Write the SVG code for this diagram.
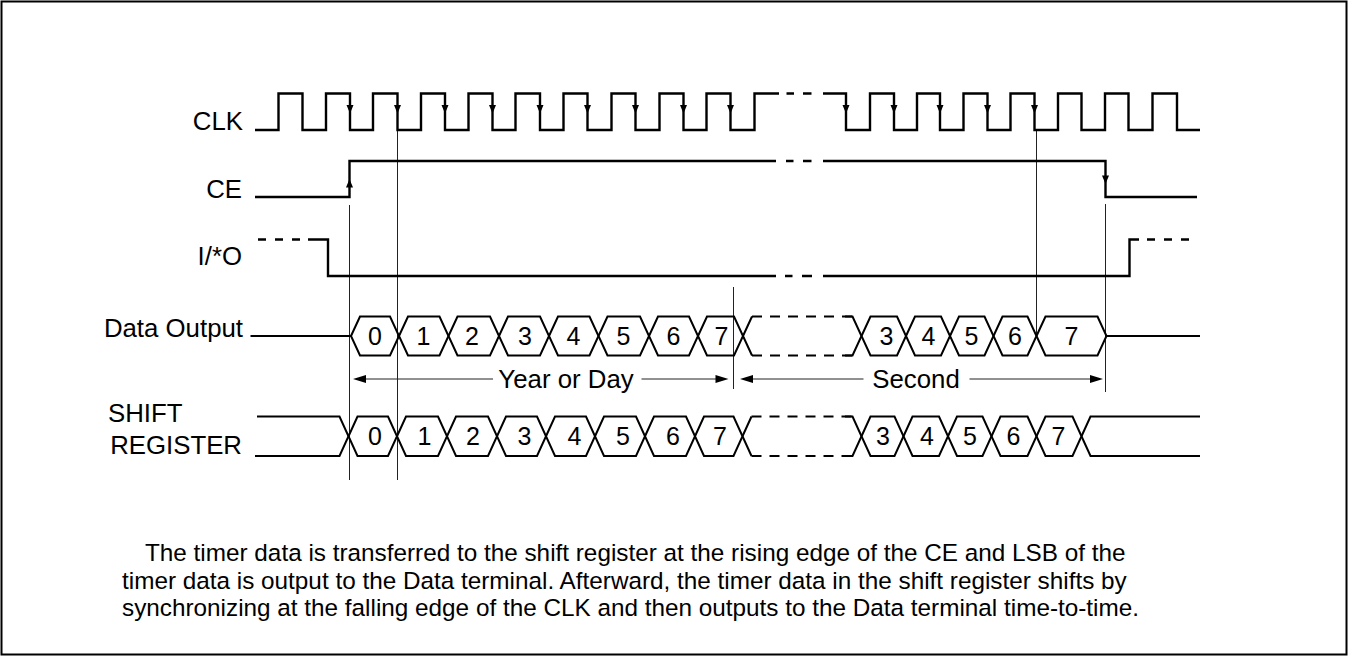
<svg xmlns="http://www.w3.org/2000/svg" width="1348" height="656" viewBox="0 0 1348 656">
<defs>
<style>
.w{fill:none;stroke:#000;stroke-width:2.4;stroke-linejoin:miter;stroke-linecap:butt}
.h{fill:none;stroke:#000;stroke-width:2;stroke-linejoin:miter}
.d{fill:none;stroke:#000;stroke-width:2.4;stroke-dasharray:8,9}
.dh{fill:none;stroke:#000;stroke-width:2;stroke-dasharray:10,8}
.g{fill:none;stroke:#222;stroke-width:1}
.a{fill:#000;stroke:none}
.t{font-family:"Liberation Sans",Arial,sans-serif;font-size:25.8px;fill:#000}
.n{font-family:"Liberation Sans",Arial,sans-serif;font-size:25px;fill:#000;text-anchor:middle}
.c{font-family:"Liberation Sans",Arial,sans-serif;font-size:24.3px;fill:#000}
</style>
</defs>
<rect x="1.5" y="1.5" width="1345" height="653" fill="#fff" stroke="#000" stroke-width="2"/>

<g id="labels">
<text class="t" x="243" y="130" text-anchor="end">CLK</text>
<text class="t" x="242" y="198" text-anchor="end">CE</text>
<text class="t" x="242" y="265" text-anchor="end">I/*O</text>
<text class="t" x="243" y="336.5" text-anchor="end">Data Output</text>
<text class="t" x="108" y="421.5">SHIFT</text>
<text class="t" x="242" y="453.5" text-anchor="end">REGISTER</text>
</g>

<g id="guides">
<line class="g" x1="349.5" y1="205" x2="349.5" y2="480"/>
<line class="g" x1="397.5" y1="130" x2="397.5" y2="480"/>
<line class="g" x1="733.5" y1="287" x2="733.5" y2="389"/>
<line class="g" x1="1036.5" y1="130" x2="1036.5" y2="336"/>
<line class="g" x1="1105.5" y1="204" x2="1105.5" y2="392"/>
</g>

<g id="clk">
<path class="w" d="M255,130 H278.5 V93.5 H302.5 V130 H326 V93.5 H350 V130 H373 V93.5 H397.5 V130 H421 V93.5 H445 V130 H468.5 V93.5 H492.5 V130 H515.5 V93.5 H540 V130 H563.5 V93.5 H587.5 V130 H611.5 V93.5 H635.5 V130 H659.5 V93.5 H683.5 V130 H706.5 V93.5 H730.5 V130 H754.5 V93.5 H779"/>
<path class="w" d="M786.5,93.5 H794 M803,93.5 H811.5"/>
<path class="w" d="M823,93.5 H846 V130 H870 V93.5 H894 V130 H917 V93.5 H940 V130 H963.5 V93.5 H987.5 V130 H1010.5 V93.5 H1034.5 V130 H1058 V93.5 H1081.5 V130 H1105 V93.5 H1128.5 V130 H1152.5 V93.5 H1177 V130 H1200"/>
<g class="a">
<polygon points="346.5,105 353.5,105 350,113.5"/>
<polygon points="394,105 401,105 397.5,113.5"/>
<polygon points="441.5,105 448.5,105 445,113.5"/>
<polygon points="489,105 496,105 492.5,113.5"/>
<polygon points="536.5,105 543.5,105 540,113.5"/>
<polygon points="584,105 591,105 587.5,113.5"/>
<polygon points="632,105 639,105 635.5,113.5"/>
<polygon points="680,105 687,105 683.5,113.5"/>
<polygon points="727,105 734,105 730.5,113.5"/>
<polygon points="842.5,105 849.5,105 846,113.5"/>
<polygon points="890.5,105 897.5,105 894,113.5"/>
<polygon points="936.5,105 943.5,105 940,113.5"/>
<polygon points="984,105 991,105 987.5,113.5"/>
<polygon points="1031,105 1038,105 1034.5,113.5"/>
</g>
</g>

<g id="ce">
<path class="w" d="M255,197 H349.5 V161 H776"/>
<path class="w" d="M786,161 H793.5 M803,161 H811.5"/>
<path class="w" d="M823,161 H1105.5 V197 H1197"/>
<polygon class="a" points="346,187.5 353,187.5 349.5,179"/>
<polygon class="a" points="1102,175.5 1109,175.5 1105.5,184"/>
</g>

<g id="io">
<path class="d" d="M258,239.5 H305"/>
<path class="w" d="M308,239.5 H328 V276 H776"/>
<path class="w" d="M785,276 H792.5 M802,276 H812"/>
<path class="w" d="M823,276 H1129.5 V239.5 H1139"/>
<path class="d" d="M1147,239.5 H1196"/>
</g>

<g id="data-output">
<path class="h" d="M250.5,336 H351"/>
<path class="h" d="M351,336 L360,316.5 H390 L399,336 L390,355.5 H360 Z"/>
<path class="h" d="M399,336 L408,316.5 H439.5 L448.5,336 L439.5,355.5 H408 Z"/>
<path class="h" d="M448.5,336 L457.5,316.5 H490 L499,336 L490,355.5 H457.5 Z"/>
<path class="h" d="M499,336 L508,316.5 H540 L549,336 L540,355.5 H508 Z"/>
<path class="h" d="M549,336 L558,316.5 H589.5 L598.5,336 L589.5,355.5 H558 Z"/>
<path class="h" d="M598.5,336 L607.5,316.5 H640 L649,336 L640,355.5 H607.5 Z"/>
<path class="h" d="M649,336 L658,316.5 H689 L698,336 L689,355.5 H658 Z"/>
<path class="h" d="M698,336 L707,316.5 H734 L743,336 L734,355.5 H707 Z"/>
<path class="h" d="M743,336 L752,316.5 M743,336 L752,355.5"/>
<path class="dh" d="M752,316.5 H852.5 M752,355.5 H852.5"/>
<path class="h" d="M845,316.5 H852.5 L861.5,336 L852.5,355.5 H845"/>
<path class="h" d="M861.5,336 L870.5,316.5 H897 L906,336 L897,355.5 H870.5 Z"/>
<path class="h" d="M906,336 L915,316.5 H941 L950,336 L941,355.5 H915 Z"/>
<path class="h" d="M950,336 L959,316.5 H984.5 L993.5,336 L984.5,355.5 H959 Z"/>
<path class="h" d="M993.5,336 L1002.5,316.5 H1027.5 L1036.5,336 L1027.5,355.5 H1002.5 Z"/>
<path class="h" d="M1036.5,336 L1045.5,316.5 H1097.5 L1106.5,336 L1097.5,355.5 H1045.5 Z"/>
<path class="h" d="M1106.5,336 H1200"/>
<text class="n" x="375" y="345">0</text>
<text class="n" x="423.5" y="345">1</text>
<text class="n" x="472" y="345">2</text>
<text class="n" x="525" y="345">3</text>
<text class="n" x="573.5" y="345">4</text>
<text class="n" x="623.5" y="345">5</text>
<text class="n" x="673.5" y="345">6</text>
<text class="n" x="721.5" y="345">7</text>
<text class="n" x="886.5" y="345">3</text>
<text class="n" x="928.5" y="345">4</text>
<text class="n" x="971.5" y="345">5</text>
<text class="n" x="1015" y="345">6</text>
<text class="n" x="1071.5" y="345">7</text>
</g>

<g id="spans">
<path class="g" d="M362,379 H493 M641.5,379 H718"/>
<polygon class="a" points="353,379 366,375 366,383"/>
<polygon class="a" points="728.5,379 715.5,375 715.5,383"/>
<text class="t" x="566" y="388" text-anchor="middle">Year or Day</text>
<path class="g" d="M750,379 H863.5 M969.5,379 H1093"/>
<polygon class="a" points="740,379 753,375 753,383"/>
<polygon class="a" points="1103,379 1090,375 1090,383"/>
<text class="t" x="916" y="388" text-anchor="middle">Second</text>
</g>

<g id="shift-register">
<path class="h" d="M257,416.5 H339.5 L348.5,436.25 L339.5,456 H255"/>
<path class="h" d="M348.5,436.25 L357.5,416.5 H388 L397,436.25 L388,456 H357.5 Z"/>
<path class="h" d="M397,436.25 L406,416.5 H438 L447,436.25 L438,456 H406 Z"/>
<path class="h" d="M447,436.25 L456,416.5 H488 L497,436.25 L488,456 H456 Z"/>
<path class="h" d="M497,436.25 L506,416.5 H537 L546,436.25 L537,456 H506 Z"/>
<path class="h" d="M546,436.25 L555,416.5 H586 L595,436.25 L586,456 H555 Z"/>
<path class="h" d="M595,436.25 L604,416.5 H636 L645,436.25 L636,456 H604 Z"/>
<path class="h" d="M645,436.25 L654,416.5 H686 L695,436.25 L686,456 H654 Z"/>
<path class="h" d="M695,436.25 L704,416.5 H733.5 L742.5,436.25 L733.5,456 H704 Z"/>
<path class="h" d="M742.5,436.25 L751.5,416.5 M742.5,436.25 L751.5,456"/>
<path class="dh" d="M751.5,416.5 H852.5 M751.5,456 H852.5"/>
<path class="h" d="M845,416.5 H852.5 L861.5,436.25 L852.5,456 H845"/>
<path class="h" d="M861.5,436.25 L870.5,416.5 H894.5 L903.5,436.25 L894.5,456 H870.5 Z"/>
<path class="h" d="M903.5,436.25 L912.5,416.5 H939 L948,436.25 L939,456 H912.5 Z"/>
<path class="h" d="M948,436.25 L957,416.5 H982.5 L991.5,436.25 L982.5,456 H957 Z"/>
<path class="h" d="M991.5,436.25 L1000.5,416.5 H1027.5 L1036.5,436.25 L1027.5,456 H1000.5 Z"/>
<path class="h" d="M1036.5,436.25 L1045.5,416.5 H1072.5 L1081.5,436.25 L1072.5,456 H1045.5 Z"/>
<path class="h" d="M1081.5,436.25 L1090.5,416.5 H1200 M1081.5,436.25 L1090.5,456 H1200"/>
<text class="n" x="375" y="445">0</text>
<text class="n" x="424.5" y="445">1</text>
<text class="n" x="473" y="445">2</text>
<text class="n" x="524.5" y="445">3</text>
<text class="n" x="574.5" y="445">4</text>
<text class="n" x="623" y="445">5</text>
<text class="n" x="673" y="445">6</text>
<text class="n" x="720" y="445">7</text>
<text class="n" x="883" y="445">3</text>
<text class="n" x="927" y="445">4</text>
<text class="n" x="970" y="445">5</text>
<text class="n" x="1013.5" y="445">6</text>
<text class="n" x="1058.5" y="445">7</text>
</g>

<g id="caption">
<text class="c" x="145" y="561">The timer data is transferred to the shift register at the rising edge of the CE and LSB of the</text>
<text class="c" x="122" y="589">timer data is output to the Data terminal. Afterward, the timer data in the shift register shifts by</text>
<text class="c" x="122" y="616">synchronizing at the falling edge of the CLK and then outputs to the Data terminal time-to-time.</text>
</g>
</svg>
